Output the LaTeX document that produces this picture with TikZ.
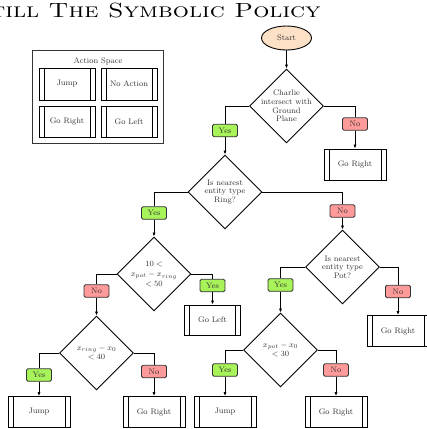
\documentclass[tikz,border=0pt]{standalone}
\usepackage{amsmath}
\usepackage{xcolor}
\usepackage{tikz}
\usetikzlibrary{shapes.geometric, arrows.meta}
\definecolor{yesFill}{HTML}{A8F25A}
\definecolor{noFill}{HTML}{FF9A9A}
\definecolor{startFill}{HTML}{FDE1C6}
\definecolor{txtGray}{HTML}{333333}

\tikzset{
    small/.style={font=\fontsize{8}{8.6}\selectfont, text=txtGray},
    procbox/.style={small, draw, line width=0.9pt, minimum width=62pt, minimum height=31pt, inner sep=0pt,
        path picture={
            \draw[line width=0.9pt] ([xshift=5pt]path picture bounding box.north west) -- ([xshift=5pt]path picture bounding box.south west);
            \draw[line width=0.9pt] ([xshift=-5pt]path picture bounding box.north east) -- ([xshift=-5pt]path picture bounding box.south east);
        }},
    test/.style={small, diamond, draw, line width=0.9pt, minimum width=74pt, minimum height=74pt, inner sep=-8pt, align=center},
    yestag/.style={small, draw=black!80, fill=yesFill, rounded corners=1.5pt, line width=0.9pt, minimum width=25pt, minimum height=12.5pt, inner sep=0pt},
    notag/.style={yestag, fill=noFill},
    flow/.style={line width=0.9pt},
}

\begin{document}
\begin{tikzpicture}[x=1pt, y=-1pt, >={Latex[length=4pt,width=3.2pt]}]
    \useasboundingbox (0,0) rectangle (427,429);
    \clip (0,0) rectangle (427,429);

    % title
    \node[anchor=base east, font=\fontsize{20.5}{24}\selectfont, inner sep=0pt] (title) at (321,17) {\scalebox{1.24}[1]{\textsc{till The Symbolic Policy}}};

    % action space
    \draw[line width=0.9pt, black!80] (32.7,50) rectangle (163,143);
    \node[small] (astitle) at (98,61) {Action Space};
    \node[procbox, minimum width=56pt, minimum height=32pt] (asjump) at (67,84) {Jump};
    \node[procbox, minimum width=56pt, minimum height=32pt] (asnone) at (129,84) {No Action};
    \node[procbox, minimum width=56pt, minimum height=31pt] (asright) at (67,121.5) {Go Right};
    \node[procbox, minimum width=56pt, minimum height=31pt] (asleft) at (129,121.5) {Go Left};

    % decision tree
    \node[small, ellipse, draw, line width=0.9pt, fill=startFill, minimum width=50pt, minimum height=24pt, inner sep=0pt] (start) at (286.5,38) {Start};
    \node[test] (ground) at (286.5,106) {Charlie\\intersect with\\Ground\\Plane};
    \node[notag] (no1) at (355,124) {No};
    \node[procbox] (right1) at (355,164.5) {Go Right};
    \node[yestag] (yes1) at (225,130.5) {Yes};

    \node[test] (ring) at (225,192) {Is nearest\\entity type\\Ring?};
    \node[yestag] (yes2) at (154,213) {Yes};
    \node[notag] (no2) at (342.5,211) {No};

    \node[test] (ringdist) at (154,274) {$10<$\\[2pt]$x_{pot}-x_{ring}$\\[1pt]$<50$};
    \node[yestag] (yes3) at (212.5,285.5) {Yes};
    \node[procbox, minimum width=56pt, minimum height=30pt] (left3) at (212.5,320) {Go Left};
    \node[notag] (no3) at (96.5,291) {No};

    \node[test] (ringx) at (96.5,353) {$x_{ring}-x_0$\\[1pt]$<40$};
    \node[yestag] (yes5) at (39,375) {Yes};
    \node[procbox] (jump5) at (39,412) {Jump};
    \node[notag] (no5) at (154,371.5) {No};
    \node[procbox] (right5) at (154,412) {Go Right};

    \node[test] (pot) at (342.5,267) {Is nearest\\entity type\\Pot?};
    \node[yestag] (yes4) at (280.5,285) {Yes};
    \node[notag] (no4) at (398,291.5) {No};
    \node[procbox] (right4) at (398,331) {Go Right};

    \node[test] (potx) at (280.5,350) {$x_{pot}-x_0$\\[1pt]$<30$};
    \node[yestag] (yes6) at (225,370) {Yes};
    \node[procbox] (jump6) at (225,412) {Jump};
    \node[notag] (no6) at (336,370) {No};
    \node[procbox] (right6) at (336,412) {Go Right};

    % connectors
    \draw[flow, ->] (start) -- (ground);
    \draw[flow] (ground.east) -| (no1.north);
    \draw[flow, ->] (no1) -- (right1);
    \draw[flow] (ground.west) -| (yes1.north);
    \draw[flow, ->] (yes1) -- (ring);

    \draw[flow] (ring.west) -| (yes2.north);
    \draw[flow, ->] (yes2) -- (ringdist);
    \draw[flow] (ring.east) -| (no2.north);
    \draw[flow, ->] (no2) -- (pot);

    \draw[flow] (ringdist.east) -| (yes3.north);
    \draw[flow, ->] (yes3) -- (left3);
    \draw[flow] (ringdist.west) -| (no3.north);
    \draw[flow, ->] (no3) -- (ringx);

    \draw[flow] (ringx.west) -| (yes5.north);
    \draw[flow, ->] (yes5) -- (jump5);
    \draw[flow] (ringx.east) -| (no5.north);
    \draw[flow, ->] (no5) -- (right5);

    \draw[flow] (pot.west) -| (yes4.north);
    \draw[flow, ->] (yes4) -- (potx);
    \draw[flow] (pot.east) -| (no4.north);
    \draw[flow, ->] (no4) -- (right4);

    \draw[flow] (potx.west) -| (yes6.north);
    \draw[flow, ->] (yes6) -- (jump6);
    \draw[flow] (potx.east) -| (no6.north);
    \draw[flow, ->] (no6) -- (right6);
\end{tikzpicture}
\end{document}
